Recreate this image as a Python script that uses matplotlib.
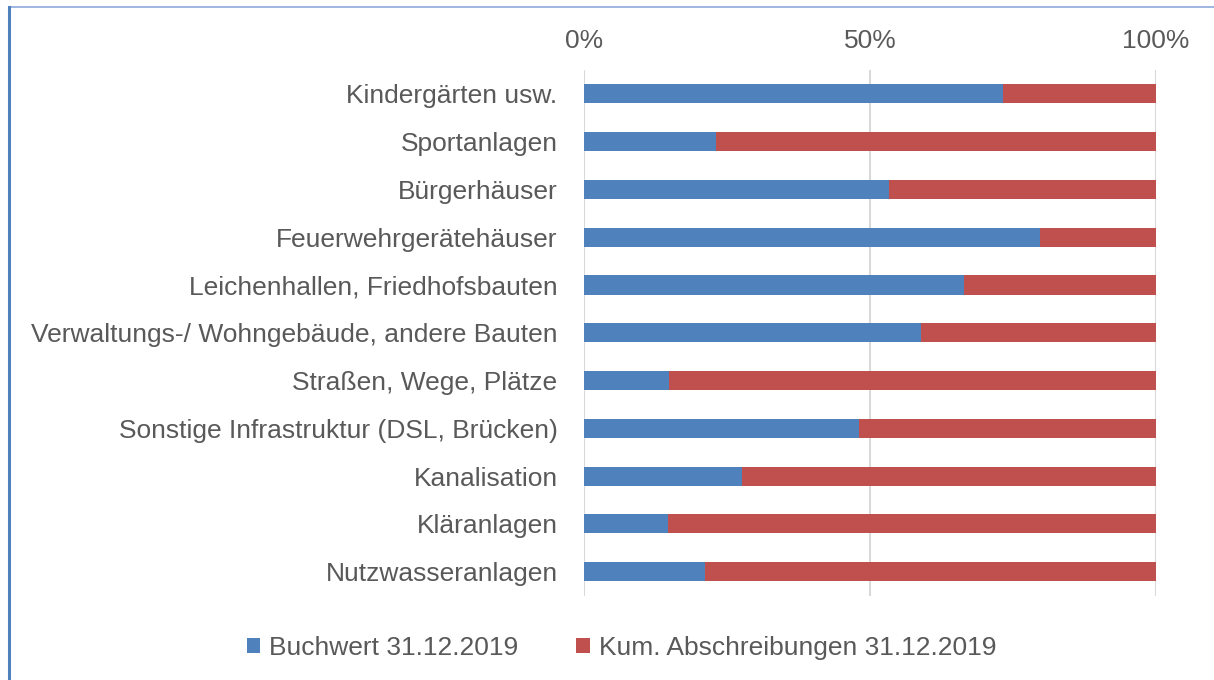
import matplotlib
matplotlib.use("Agg")
import matplotlib.pyplot as plt
from matplotlib.patches import Patch
from matplotlib.lines import Line2D
import numpy as np

categories = [
    "Kindergärten usw.",
    "Sportanlagen",
    "Bürgerhäuser",
    "Feuerwehrgerätehäuser",
    "Leichenhallen, Friedhofsbauten",
    "Verwaltungs-/ Wohngebäude, andere Bauten",
    "Straßen, Wege, Plätze",
    "Sonstige Infrastruktur (DSL, Brücken)",
    "Kanalisation",
    "Kläranlagen",
    "Nutzwasseranlagen",
]
buchwert = [73.2, 23.1, 53.4, 79.8, 66.4, 59.0, 14.9, 48.1, 27.6, 14.6, 21.2]
abschreibungen = [100 - v for v in buchwert]
series_names = ["Buchwert 31.12.2019", "Kum. Abschreibungen 31.12.2019"]
x_ticks = [0, 50, 100]
x_ticklabels = ["0%", "50%", "100%"]

BLUE = "#4F81BD"
RED = "#C0504D"
TXT = "#595959"
FS = 19

plt.rcParams['font.family'] = ['Liberation Sans', 'DejaVu Sans']

fig = plt.figure(figsize=(12.14, 6.8), dpi=100)
ax = fig.add_axes([584/1214, 1 - 595.5/680, 572/1214, 525.5/680])

y = np.arange(len(categories))
ax.barh(y, buchwert, height=0.4, color=BLUE, label=series_names[0], zorder=3)
ax.barh(y, abschreibungen, left=buchwert, height=0.4, color=RED, label=series_names[1], zorder=3)

ax.set_xlim(0, 100)
ax.set_ylim(len(categories) - 0.5, -0.5)
ax.set_yticks(y)
ax.set_yticklabels(categories, fontsize=FS, color=TXT)
ax.set_xticks(x_ticks)
ax.set_xticklabels(x_ticklabels, fontsize=FS, color=TXT)
ax.xaxis.tick_top()
ax.tick_params(axis='x', length=0, pad=12)
ax.tick_params(axis='y', length=0, pad=19)
ax.grid(axis='x', color="#D9D9D9", linewidth=1.5, zorder=0)
for s in ax.spines.values():
    s.set_visible(False)

handles = [Patch(facecolor=BLUE, edgecolor='none'), Patch(facecolor=RED, edgecolor='none')]
fig.legend(handles, series_names, loc='center', bbox_to_anchor=(0.512, 1 - 648/680),
           ncol=2, frameon=False, fontsize=FS, labelcolor=TXT,
           handlelength=0.5, handleheight=0.5, handletextpad=0.35, columnspacing=2.2)

# outer frame lines
fig.add_artist(Line2D([9/1214, 1], [1 - 7/680, 1 - 7/680], transform=fig.transFigure,
                      color="#8EA9DB", linewidth=1.2))
fig.add_artist(Line2D([9/1214, 9/1214], [0, 1 - 7/680], transform=fig.transFigure,
                      color="#4F81BD", linewidth=2.2))

fig.savefig("out.png", dpi=100)
